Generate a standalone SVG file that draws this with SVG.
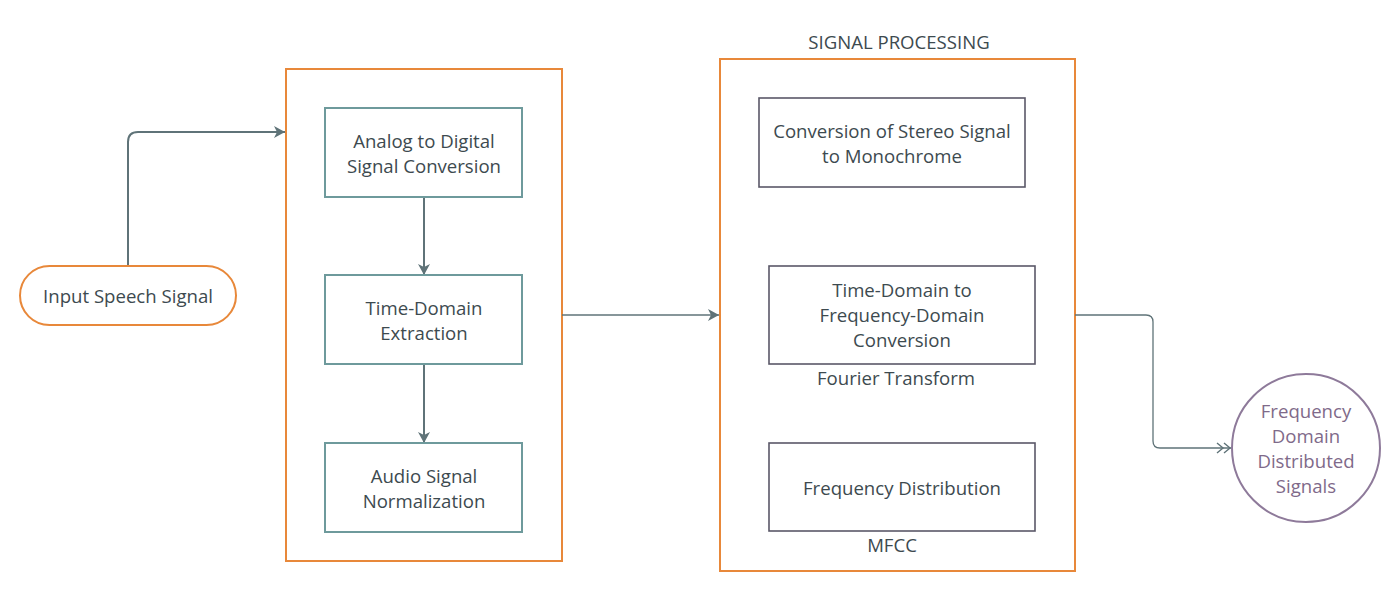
<svg xmlns="http://www.w3.org/2000/svg" width="1400" height="592" viewBox="0 0 1400 592">
<defs>
<style>
text{font-family:"Open Sans","Noto Sans","DejaVu Sans",sans-serif;font-size:18.6px;fill:#3d4a4f;text-anchor:middle}
.cont{fill:#fff;stroke:#e8883a;stroke-width:2}
.teal{fill:#fff;stroke:#6e9a9c;stroke-width:2}
.dark{fill:#fff;stroke:#5a5868;stroke-width:1.6}
.conn{fill:none;stroke:#5f7378;stroke-width:2}
.thin{fill:none;stroke:#5f7378;stroke-width:1.3}
.pur{fill:#7f6a8a}
</style>
<marker id="arr" viewBox="0 0 12 12" refX="11" refY="6" markerWidth="12" markerHeight="12" markerUnits="userSpaceOnUse" orient="auto">
<path d="M0,0 L11,6 L0,12 L3,6 Z" fill="#5f7378"/>
</marker>
<marker id="dbl" viewBox="0 0 16 12" refX="15" refY="6" markerWidth="16" markerHeight="12" markerUnits="userSpaceOnUse" orient="auto">
<path d="M1,1 L7,6 L1,11 M8,1 L14,6 L8,11" fill="none" stroke="#5f7378" stroke-width="1.4"/>
</marker>
</defs>
<rect width="1400" height="592" fill="#fff"/>

<g id="container-left"><rect class="cont" x="286" y="69" width="276" height="492"/></g>
<g id="container-right">
<rect class="cont" x="720" y="59" width="355" height="512"/>
<text x="899" y="49">SIGNAL PROCESSING</text>
</g>

<g id="connectors">
<path class="conn" d="M128,266 V142 Q128,132 138,132 H285" marker-end="url(#arr)"/>
<path class="conn" d="M424,197 V275" marker-end="url(#arr)"/>
<path class="conn" d="M424,364 V443" marker-end="url(#arr)"/>
<path class="thin" d="M562,315 H719" marker-end="url(#arr)"/>
<path class="thin" d="M1075,315 H1146 Q1153,315 1153,322 V441 Q1153,448 1160,448 H1231" marker-end="url(#dbl)"/>
</g>

<g id="input">
<rect x="20" y="266" width="216" height="59" rx="29.5" fill="#fff" stroke="#e8883a" stroke-width="2"/>
<text x="128" y="303">Input Speech Signal</text>
</g>

<g id="adc">
<rect class="teal" x="325" y="108" width="197" height="89"/>
<text x="424" y="148">Analog to Digital</text>
<text x="424" y="173">Signal Conversion</text>
</g>
<g id="tde">
<rect class="teal" x="325" y="275" width="197" height="89"/>
<text x="424" y="315">Time-Domain</text>
<text x="424" y="340">Extraction</text>
</g>
<g id="norm">
<rect class="teal" x="325" y="443" width="197" height="89"/>
<text x="424" y="483">Audio Signal</text>
<text x="424" y="508">Normalization</text>
</g>

<g id="stereo">
<rect class="dark" x="759" y="98" width="266" height="89"/>
<text x="892" y="138">Conversion of Stereo Signal</text>
<text x="892" y="163">to Monochrome</text>
</g>
<g id="fft">
<rect class="dark" x="769" y="266" width="266" height="98"/>
<text x="902" y="297">Time-Domain to</text>
<text x="902" y="322">Frequency-Domain</text>
<text x="902" y="347">Conversion</text>
<text x="896" y="385">Fourier Transform</text>
</g>
<g id="freqdist">
<rect class="dark" x="769" y="443" width="266" height="88"/>
<text x="902" y="495">Frequency Distribution</text>
<text x="892" y="552">MFCC</text>
</g>

<g id="output">
<circle cx="1306" cy="448" r="74" fill="#fff" stroke="#8e7a9a" stroke-width="2"/>
<text class="pur" x="1306" y="418">Frequency</text>
<text class="pur" x="1306" y="443">Domain</text>
<text class="pur" x="1306" y="468">Distributed</text>
<text class="pur" x="1306" y="493">Signals</text>
</g>
</svg>
